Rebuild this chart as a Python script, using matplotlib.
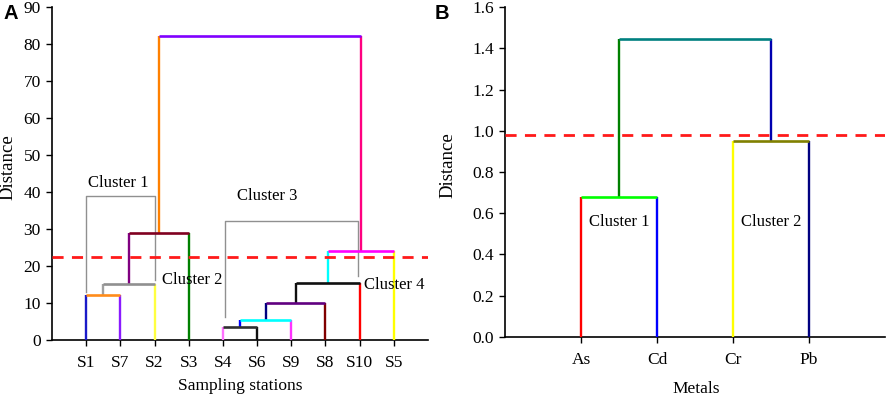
import matplotlib
matplotlib.use("Agg")
import matplotlib.pyplot as plt

# ---------------- data ----------------
stations = ['S1', 'S7', 'S2', 'S3', 'S4', 'S6', 'S9', 'S8', 'S10', 'S5']
# merges: (left node, right node, height); leaves 0..9, new nodes 10..
merges_A = [(0, 1, 12.2), (10, 2, 15.0), (11, 3, 28.9),
            (4, 5, 3.6), (13, 6, 5.4), (14, 7, 10.1), (15, 8, 15.3),
            (16, 9, 24.1), (12, 17, 82.2)]
# colours: (left leg, right leg, horizontal)
colors_A = [('#1a1ac8', '#8a1aff', '#ff8c1a'),
            ('#a0a0a0', '#ffff40', '#909090'),
            ('#800080', '#008000', '#800020'),
            ('#ff70ff', '#101010', '#303030'),
            ('#0000ff', '#ff33ff', '#00ffff'),
            ('#000080', '#800000', '#600080'),
            ('#101010', '#ff0000', '#101010'),
            ('#00ffff', '#ffff00', '#ff00ff'),
            ('#ff8000', '#ff0080', '#8000ff')]
cut_A = 22.3

metals = ['As', 'Cd', 'Cr', 'Pb']
merges_B = [(0, 1, 0.677), (2, 3, 0.949), (4, 5, 1.447)]
colors_B = [('#ff0000', '#0000ff', '#00ff00'),
            ('#ffff00', '#000080', '#808000'),
            ('#008000', '#0000b0', '#008080')]
cut_B = 0.981

serif = 'Liberation Serif'


def draw_dendro(ax, labels, merges, colors):
    n = len(labels)
    xpos = {i: i + 1 for i in range(n)}
    hpos = {i: 0.0 for i in range(n)}
    for k, ((a, b, h), (cl, cr, ch)) in enumerate(zip(merges, colors)):
        node = n + k
        xa, xb = xpos[a], xpos[b]
        ax.plot([xa, xa], [hpos[a], h], color=cl, lw=1.7, solid_capstyle='butt', zorder=3)
        ax.plot([xb, xb], [hpos[b], h], color=cr, lw=1.7, solid_capstyle='butt', zorder=3)
        ax.plot([xa, xb], [h, h], color=ch, lw=1.9, solid_capstyle='butt', zorder=4)
        xpos[node] = (xa + xb) / 2
        hpos[node] = h
    ax.set_xticks(range(1, n + 1))
    ax.set_xticklabels(labels)
    ax.set_xlim(0, n + 1)


def style(ax):
    for s in ['top', 'right']:
        ax.spines[s].set_visible(False)
    for s in ['left', 'bottom']:
        ax.spines[s].set_linewidth(1.2)
    ax.tick_params(direction='out', length=4, width=1.0, labelsize=12.5)
    ax.tick_params(axis='x', pad=7)
    ax.tick_params(axis='y', pad=4)
    for t in ax.get_xticklabels() + ax.get_yticklabels():
        t.set_fontfamily(serif)


fig = plt.figure(figsize=(8.86, 3.99), dpi=100)

# Panel A
axA = fig.add_axes([0.0587, 0.148, 0.4243, 0.834])
draw_dendro(axA, stations, merges_A, colors_A)
axA.set_ylim(0, 90)
axA.set_yticks(range(0, 91, 10))
axA.axhline(cut_A, color='#ff1a1a', lw=2.0, ls=(0, (4, 3)), zorder=5)
style(axA)
axA.set_ylabel('Distance', fontfamily=serif, fontsize=13.5)
axA.yaxis.set_label_coords(-0.094, 0.52)
axA.set_xlabel('Sampling stations', fontfamily=serif, fontsize=12.5)
axA.xaxis.set_label_coords(0.5, -0.115)

gray = '#909090'
# cluster brackets
axA.plot([1, 1, 3, 3], [13.0, 39.0, 39.0, 16.2], color=gray, lw=1.0, zorder=2)
axA.plot([5.05, 5.05, 8.95, 8.95], [6.3, 32.2, 32.2, 17.3], color=gray, lw=1.0, zorder=2)
axA.text(1.95, 42.5, 'Cluster 1', fontfamily=serif, fontsize=12, ha='center', va='center')
axA.text(4.1, 16.2, 'Cluster 2', fontfamily=serif, fontsize=12, ha='center', va='center')
axA.text(6.3, 38.9, 'Cluster 3', fontfamily=serif, fontsize=12, ha='center', va='center')
axA.text(10.0, 14.9, 'Cluster 4', fontfamily=serif, fontsize=12, ha='center', va='center')

# Panel B
axB = fig.add_axes([0.570, 0.156, 0.429, 0.826])
draw_dendro(axB, metals, merges_B, colors_B)
axB.set_ylim(0, 1.6)
yt = [0.0, 0.2, 0.4, 0.6, 0.8, 1.0, 1.2, 1.4, 1.6]
axB.set_yticks(yt)
axB.set_yticklabels([f'{v:.1f}' for v in yt])
axB.axhline(cut_B, color='#ff1a1a', lw=2.0, ls=(0, (4, 3)), zorder=5)
style(axB)
axB.set_ylabel('Distance', fontfamily=serif, fontsize=13.5)
axB.yaxis.set_label_coords(-0.127, 0.52)
axB.set_xlabel('Metals', fontfamily=serif, fontsize=12.5)
axB.xaxis.set_label_coords(0.502, -0.133)
axB.text(1.5, 0.556, 'Cluster 1', fontfamily=serif, fontsize=12, ha='center', va='center')
axB.text(3.5, 0.556, 'Cluster 2', fontfamily=serif, fontsize=12, ha='center', va='center')

fig.text(0.004, 0.967, 'A', fontfamily='Liberation Sans', fontweight='bold', fontsize=14.5, ha='left', va='center')
fig.text(0.491, 0.967, 'B', fontfamily='Liberation Sans', fontweight='bold', fontsize=14.5, ha='left', va='center')

fig.savefig('out.png', dpi=100)
